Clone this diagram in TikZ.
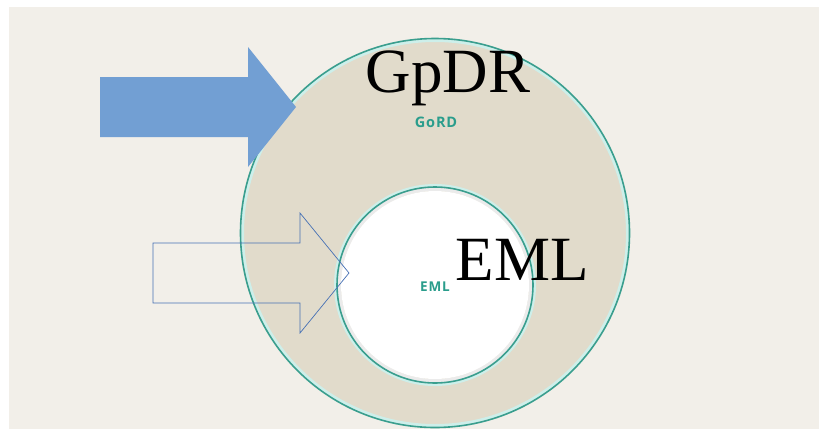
\documentclass[tikz,border=0pt]{standalone}
\usepackage{fontspec}
\setmainfont{Liberation Serif}
\newfontfamily\smallsans[LetterSpace=6]{Open Sans}
\begin{document}
\begin{tikzpicture}[x=1pt,y=-1pt,
  bigtext/.style={font=\fontsize{63}{63}\selectfont, anchor=base, inner sep=0pt},
  smalltext/.style={text=tealtxt, anchor=base, inner sep=0pt},
  ring/.style={draw=tealline, line width=1.6pt}]
\definecolor{bg}{HTML}{F2EFE9}
\definecolor{disc}{HTML}{E1DBCB}
\definecolor{tealline}{HTML}{3A9E8E}
\definecolor{halo}{HTML}{CDEFEA}
\definecolor{tealtxt}{HTML}{2A9D8C}
\definecolor{arrowfill}{HTML}{729FD3}
\definecolor{arrowline}{HTML}{4670B4}
\useasboundingbox (0,0) rectangle (819,429);
\fill[bg] (9,7) rectangle (819,429);
% outer disc
\coordinate (oc) at (435,233);
\fill[disc] (oc) circle[radius=194];
\draw[halo, line width=3pt] (oc) circle[radius=192.5];
\draw[ring] (oc) circle[radius=194.5];
% inner disc
\coordinate (ic) at (435,285);
\draw[black!8, line width=4pt] (ic) circle[radius=96];
\fill[white] (ic) circle[radius=94];
\draw[halo, line width=3pt] (ic) circle[radius=99.5];
\draw[ring] (ic) circle[radius=98];
% filled arrow
\fill[arrowfill] (100,77) -- (248,77) -- (248,47) -- (296,107) -- (248,167) -- (248,137) -- (100,137) -- cycle;
% outline arrow
\draw[arrowline, line width=0.7pt, line join=miter] (153,243) -- (300,243) -- (300,213) -- (349,273) -- (300,333) -- (300,303) -- (153,303) -- cycle;
% texts
\node[bigtext] (gpdr) at (448,92) {GpDR};
\node[bigtext] (eml) at (522,280) {EML};
\node[smalltext, font=\smallsans\bfseries\fontsize{14.5}{14.5}\selectfont] (gord) at (436,127.5) {GoRD};
\node[smalltext, font=\smallsans\bfseries\fontsize{13.5}{13.5}\selectfont] (emls) at (435,291.5) {EML};
\end{tikzpicture}
\end{document}
